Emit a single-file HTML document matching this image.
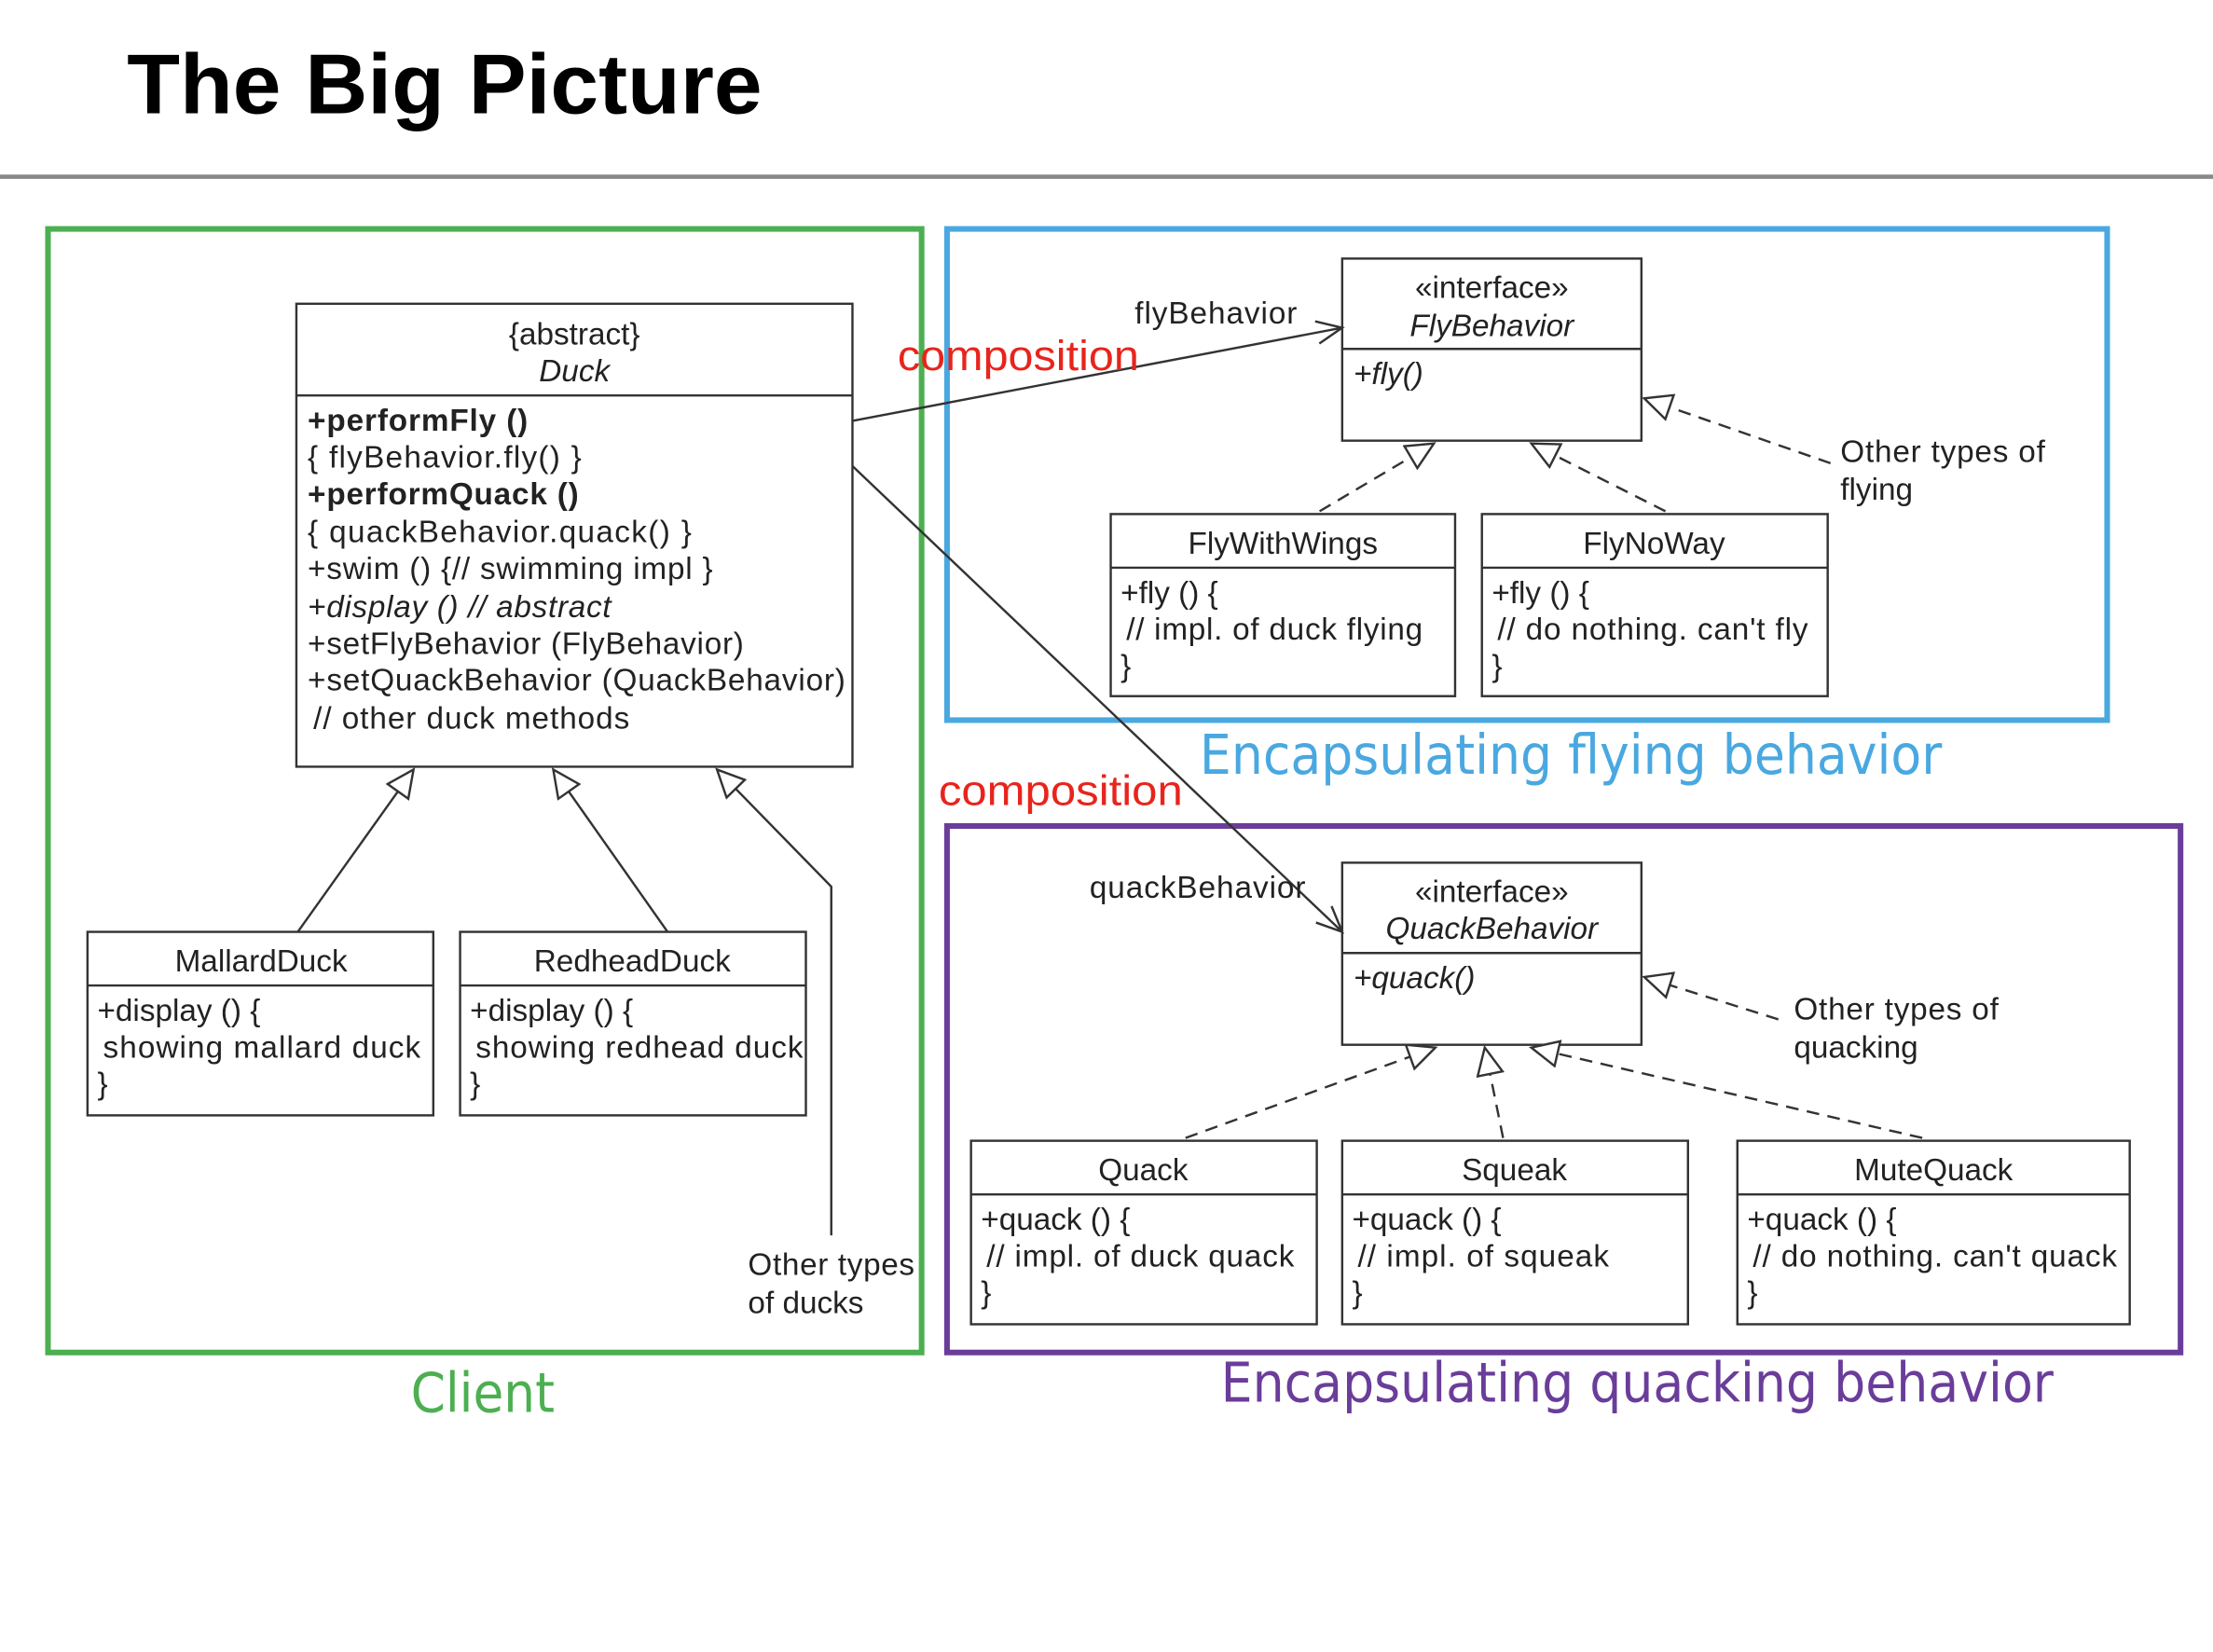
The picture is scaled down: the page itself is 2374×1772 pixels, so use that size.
<!DOCTYPE html>
<html><head><meta charset="utf-8"><style>
html,body{margin:0;padding:0;background:#fff;}
svg{display:block}
text{font-family:"Liberation Sans",Arial,sans-serif;}
</style></head><body>
<svg width="2374" height="1772" viewBox="0 0 1568 1170" xmlns="http://www.w3.org/2000/svg">
<defs>
<marker id="tri" markerWidth="24" markerHeight="24" refX="20" refY="10" orient="auto" markerUnits="userSpaceOnUse">
<path d="M1,1 L20,10 L1,19 Z" fill="#fff" stroke="#333" stroke-width="1.6"/>
</marker>
<marker id="open" markerWidth="24" markerHeight="24" refX="20" refY="10" orient="auto" markerUnits="userSpaceOnUse">
<path d="M2,2 L20,10 L2,18" fill="none" stroke="#333" stroke-width="1.6"/>
</marker>
</defs>
<text x="90" y="80" font-size="60" font-weight="bold" fill="#000" textLength="450" lengthAdjust="spacingAndGlyphs">The Big Picture</text>
<line x1="0" y1="125" x2="1568" y2="125" stroke="#888" stroke-width="3"/>

<rect x="34" y="162" width="619" height="796" fill="none" stroke="#4caf50" stroke-width="4"/>
<rect x="671" y="162" width="822" height="348" fill="none" stroke="#4aa8e0" stroke-width="4"/>
<rect x="671" y="585" width="874" height="373" fill="none" stroke="#6a3d9a" stroke-width="4"/>

<g fill="#fff" stroke="#333" stroke-width="1.6">
<rect x="210" y="215" width="394" height="328"/><line x1="210" y1="280" x2="604" y2="280"/>
<rect x="951" y="183" width="212" height="129"/><line x1="951" y1="247" x2="1163" y2="247"/>
<rect x="787" y="364" width="244" height="129"/><line x1="787" y1="402" x2="1031" y2="402"/>
<rect x="1050" y="364" width="245" height="129"/><line x1="1050" y1="402" x2="1295" y2="402"/>
<rect x="951" y="611" width="212" height="129"/><line x1="951" y1="675" x2="1163" y2="675"/>
<rect x="688" y="808" width="245" height="130"/><line x1="688" y1="846" x2="933" y2="846"/>
<rect x="951" y="808" width="245" height="130"/><line x1="951" y1="846" x2="1196" y2="846"/>
<rect x="1231" y="808" width="278" height="130"/><line x1="1231" y1="846" x2="1509" y2="846"/>
<rect x="62" y="660" width="245" height="130"/><line x1="62" y1="698" x2="307" y2="698"/>
<rect x="326" y="660" width="245" height="130"/><line x1="326" y1="698" x2="571" y2="698"/>
</g>

<g stroke="#333" stroke-width="1.6" fill="none">
<line x1="211" y1="660" x2="293" y2="545" marker-end="url(#tri)"/>
<line x1="473" y1="660" x2="392" y2="545" marker-end="url(#tri)"/>
<polyline points="589,875 589,628 508,545" marker-end="url(#tri)"/>
<line x1="604" y1="298" x2="951" y2="232" marker-end="url(#open)"/>
<line x1="604" y1="330" x2="951" y2="660" marker-end="url(#open)"/>
<g stroke-dasharray="9,6">
<line x1="935" y1="362" x2="1016" y2="314" marker-end="url(#tri)"/>
<line x1="1180" y1="362" x2="1085" y2="314" marker-end="url(#tri)"/>
<line x1="1297" y1="328" x2="1165" y2="282" marker-end="url(#tri)"/>
<line x1="840" y1="806" x2="1017" y2="742" marker-end="url(#tri)"/>
<line x1="1065" y1="806" x2="1052" y2="742" marker-end="url(#tri)"/>
<line x1="1362" y1="806" x2="1085" y2="742" marker-end="url(#tri)"/>
<line x1="1260" y1="722" x2="1165" y2="692" marker-end="url(#tri)"/>
</g>
</g>

<g font-size="22" fill="#222">
<text x="407" y="244" text-anchor="middle">{abstract}</text>
<text x="407" y="270" text-anchor="middle" font-style="italic">Duck</text>
<text x="218" y="305" font-weight="bold" textLength="156">+performFly ()</text>
<text x="218" y="331" textLength="194">{  flyBehavior.fly() }</text>
<text x="218" y="357" font-weight="bold" textLength="192">+performQuack ()</text>
<text x="218" y="384" textLength="272">{  quackBehavior.quack() }</text>
<text x="218" y="410" textLength="287">+swim () {// swimming impl }</text>
<text x="218" y="437" font-style="italic" textLength="215">+display () // abstract</text>
<text x="218" y="463" textLength="309">+setFlyBehavior (FlyBehavior)</text>
<text x="218" y="489" textLength="381">+setQuackBehavior (QuackBehavior)</text>
<text x="222" y="516" textLength="224">// other duck methods</text>

<text x="1057" y="211" text-anchor="middle">«interface»</text>
<text x="1057" y="238" text-anchor="middle" font-style="italic">FlyBehavior</text>
<text x="959" y="272" font-style="italic">+fly()</text>
<text x="909" y="392" text-anchor="middle">FlyWithWings</text>
<text x="794" y="427">+fly () {</text><text x="798" y="453" textLength="210"> // impl. of duck flying</text><text x="794" y="479">}</text>
<text x="1172" y="392" text-anchor="middle">FlyNoWay</text>
<text x="1057" y="427">+fly () {</text><text x="1061" y="453" textLength="220"> // do nothing. can't fly</text><text x="1057" y="479">}</text>

<text x="1057" y="639" text-anchor="middle">«interface»</text>
<text x="1057" y="665" text-anchor="middle" font-style="italic">QuackBehavior</text>
<text x="959" y="700" font-style="italic">+quack()</text>
<text x="810" y="836" text-anchor="middle">Quack</text>
<text x="695" y="871">+quack () {</text><text x="699" y="897" textLength="218"> // impl. of duck quack</text><text x="695" y="923">}</text>
<text x="1073" y="836" text-anchor="middle">Squeak</text>
<text x="958" y="871">+quack () {</text><text x="962" y="897" textLength="178"> // impl. of squeak</text><text x="958" y="923">}</text>
<text x="1370" y="836" text-anchor="middle">MuteQuack</text>
<text x="1238" y="871">+quack () {</text><text x="1242" y="897" textLength="258"> // do nothing. can't quack</text><text x="1238" y="923">}</text>

<text x="185" y="688" text-anchor="middle">MallardDuck</text>
<text x="69" y="723">+display () {</text><text x="73" y="749" textLength="225"> showing mallard duck</text><text x="69" y="775">}</text>
<text x="448" y="688" text-anchor="middle">RedheadDuck</text>
<text x="333" y="723">+display () {</text><text x="337" y="749" textLength="232"> showing redhead duck</text><text x="333" y="775">}</text>

<text x="804" y="229" textLength="115">flyBehavior</text>
<text x="772" y="636" textLength="153">quackBehavior</text>
<text x="1304" y="327" textLength="145">Other types of</text><text x="1304" y="354">flying</text>
<text x="1271" y="722" textLength="145">Other types of</text><text x="1271" y="749">quacking</text>
<text x="530" y="903" textLength="118">Other types</text><text x="530" y="930">of ducks</text>
</g>
<text x="636" y="262" font-size="30" fill="#e8241c" textLength="171" lengthAdjust="spacingAndGlyphs">composition</text>
<text x="665" y="570" font-size="30" fill="#e8241c" textLength="173" lengthAdjust="spacingAndGlyphs">composition</text>
<text x="850" y="548" font-size="39" fill="#4aa8e0" style="font-family:'DejaVu Sans',sans-serif" textLength="526" lengthAdjust="spacingAndGlyphs">Encapsulating flying behavior</text>
<text x="865" y="993" font-size="39" fill="#6a3d9a" style="font-family:'DejaVu Sans',sans-serif" textLength="590" lengthAdjust="spacingAndGlyphs">Encapsulating quacking behavior</text>
<text x="291" y="1000" font-size="39" fill="#4caf50" style="font-family:'DejaVu Sans',sans-serif" textLength="102" lengthAdjust="spacingAndGlyphs">Client</text>
</svg>
</body></html>
